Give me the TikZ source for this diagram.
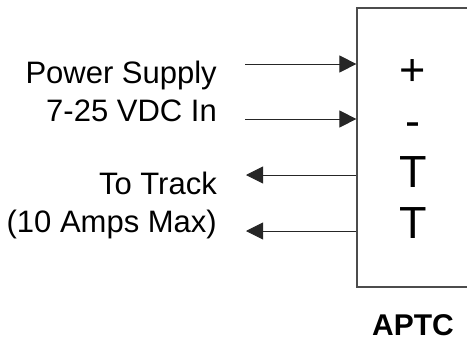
\documentclass[tikz,border=0pt]{standalone}
\usepackage{fontspec}
\setmainfont{Liberation Sans}
\usetikzlibrary{arrows.meta, positioning}

\begin{document}
\begin{tikzpicture}[x=1pt, y=-1pt,
	lbl/.style={anchor=base east, inner sep=0pt, font=\fontsize{31}{36}\selectfont},
	pin/.style={anchor=base, inner sep=0pt, font=\fontsize{45}{50}\selectfont},
	box/.style={rectangle, draw=black!70, line width=1.2pt, minimum width=116pt,
	            minimum height=279pt, inner sep=0pt},
	arr/.style={-{Triangle[length=17pt,width=17pt]}, draw=black!85, line width=0.9pt}
	]
\useasboundingbox (0,0) rectangle (467,346);

% Baustein
\node[box] (aptc) at (415,147.5) {};
\node[anchor=base, inner sep=0pt, font=\fontsize{30}{36}\selectfont\bfseries] (name) at (413,335) {APTC};

% Anschluesse
\node[pin] (plus)  at (413,85)  {+};
\node[pin] (minus) at (413,136) {-};
\node[pin] (t1)    at (413,187) {T};
\node[pin] (t2)    at (413,238) {T};

% Beschriftung links
\node[lbl] (ps)  at (217,83)  {Power Supply};
\node[lbl] (vdc) at (217,121) {7-25 VDC In};
\node[lbl] (trk) at (217,194) {To Track};
\node[lbl] (amp) at (217,232) {(10 Amps Max)};

% Pfeile
\coordinate (in1)  at (245,64);
\coordinate (in2)  at (245,119);
\coordinate (out1) at (246,175);
\coordinate (out2) at (246,231);
\draw[arr] (in1) -- (in1 -| aptc.west);
\draw[arr] (in2) -- (in2 -| aptc.west);
\draw[arr] (out1 -| aptc.west) -- (out1);
\draw[arr] (out2 -| aptc.west) -- (out2);

\end{tikzpicture}
\end{document}
